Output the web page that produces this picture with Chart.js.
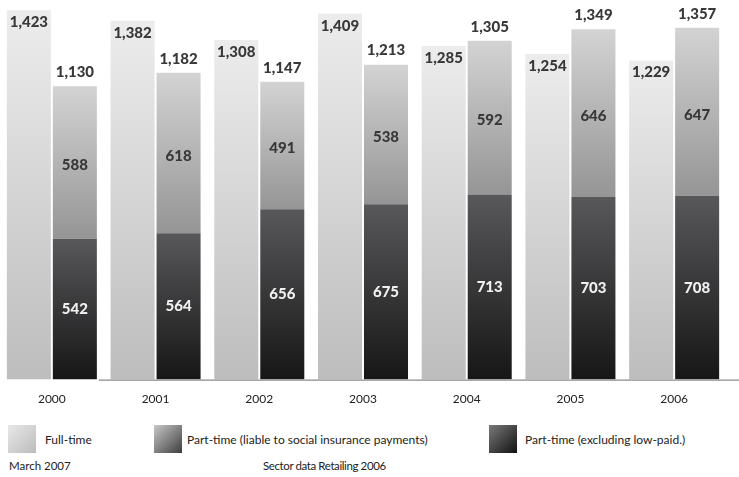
<!DOCTYPE html>
<html>
<head>
<meta charset="utf-8">
<script src="https://cdn.jsdelivr.net/npm/chart.js@4"></script>
<style>
  body { margin: 0; background: #fff; width: 739px; height: 477px; overflow: hidden; font-family: Lato, "Open Sans", sans-serif; color: #222; }
  #wrap { position: absolute; left: 0; top: 0; width: 739px; height: 410px; }
  .box { position: absolute; top: 425px; width: 28px; height: 28px; }
  .txt { position: absolute; top: 432px; font-size: 12px; white-space: nowrap; }
  .foot { position: absolute; top: 459px; font-size: 11.5px; white-space: nowrap; }
</style>
</head>
<body>
<div id="wrap"><canvas id="chart"></canvas></div>

<span class="box" style="left:8px;background:linear-gradient(135deg,#e8e8e8,#bcbcbc)"></span>
<span class="txt" style="left:45px">Full-time</span>
<span class="box" style="left:154px;background:linear-gradient(135deg,#c8c8c8,#3e3e3e)"></span>
<span class="txt" style="left:187px">Part-time (liable to social insurance payments)</span>
<span class="box" style="left:489px;background:linear-gradient(135deg,#7a7a7a,#111)"></span>
<span class="txt" style="left:525px">Part-time (excluding low-paid.)</span>
<div class="foot" style="left:9px">March 2007</div>
<div class="foot" style="left:263px;letter-spacing:-0.4px">Sector data Retailing 2006</div>

<script>
(() => {
    const years = ['2000', '2001', '2002', '2003', '2004', '2005', '2006'];
    const fullTime = [1423, 1382, 1308, 1409, 1285, 1254, 1229];
    const partLiable = [588, 618, 491, 538, 592, 646, 647];
    const partExcl = [542, 564, 656, 675, 713, 703, 708];
    const partTotal = [1130, 1182, 1147, 1213, 1305, 1349, 1357];

    const fmt = v => v.toLocaleString('en-US');

    // vertical gradient for one bar segment, from its own top to its own bottom
    function segGradient(ctx, base, top, c1, c2) {
        const chart = ctx.chart;
        const y = chart.scales.y;
        if (!chart.chartArea) return c2;
        const y0 = y.getPixelForValue(top);
        const y1 = y.getPixelForValue(base);
        const g = chart.ctx.createLinearGradient(0, y0, 0, y1);
        g.addColorStop(0, c1);
        g.addColorStop(1, c2);
        return g;
    }

    const valueLabels = {
        id: 'valueLabels',
        afterDatasetsDraw(chart) {
            const c = chart.ctx;
            c.save();
            c.textAlign = 'center';
            c.textBaseline = 'middle';
            c.font = '900 15px Lato, sans-serif';

            const ft = chart.getDatasetMeta(0).data;
            const ex = chart.getDatasetMeta(1).data;
            const li = chart.getDatasetMeta(2).data;

            ft.forEach((bar, i) => {
                c.fillStyle = '#383838';
                c.fillText(fmt(fullTime[i]), bar.x, bar.y + 12);
            });
            li.forEach((bar, i) => {
                c.fillStyle = '#383838';
                c.fillText(fmt(partTotal[i]), bar.x, bar.y - 14);
                c.fillText(fmt(partLiable[i]), bar.x, (bar.y + bar.base) / 2 + 3);
            });
            ex.forEach((bar, i) => {
                c.fillStyle = '#f0f0f0';
                c.fillText(fmt(partExcl[i]), bar.x, (bar.y + bar.base) / 2);
            });

            // baseline, starting after the first group like the original
            const first = ex[0];
            const yb = chart.scales.y.getPixelForValue(0);
            c.strokeStyle = '#8a8a8a';
            c.lineWidth = 1.2;
            c.beginPath();
            c.moveTo(first.x + first.width / 2 + 2, yb + 0.5);
            c.lineTo(chart.width, yb + 0.5);
            c.stroke();
            c.restore();
        }
    };

    new Chart(document.getElementById('chart'), {
        type: 'bar',
        data: {
            labels: years,
            datasets: [
                {
                    label: 'Full-time',
                    data: fullTime,
                    stack: 'ft',
                    backgroundColor: ctx => segGradient(ctx, 0, fullTime[ctx.dataIndex] || 0, '#ececec', '#bdbdbd')
                },
                {
                    label: 'Part-time (excluding low-paid.)',
                    data: partExcl,
                    stack: 'pt',
                    backgroundColor: ctx => segGradient(ctx, 0, partExcl[ctx.dataIndex] || 0, '#58585b', '#161616')
                },
                {
                    label: 'Part-time (liable to social insurance payments)',
                    data: partLiable,
                    stack: 'pt',
                    backgroundColor: ctx => {
                        const b = partExcl[ctx.dataIndex] || 0;
                        return segGradient(ctx, b, b + (partLiable[ctx.dataIndex] || 0), '#d3d3d3', '#959595');
                    }
                }
            ]
        },
        options: {
            responsive: true,
            maintainAspectRatio: false,
            animation: false,
            layout: { padding: { left: 0, right: 13, top: 0, bottom: 0 } },
            categoryPercentage: 0.887,
            barPercentage: 0.957,
            plugins: {
                legend: { display: false },
                tooltip: { enabled: false }
            },
            scales: {
                x: {
                    stacked: true,
                    grid: { display: false },
                    border: { display: false },
                    ticks: { color: '#222', font: { family: 'Lato', size: 12 }, padding: 4 }
                },
                y: {
                    stacked: true,
                    display: false,
                    min: 0,
                    max: 1462
                }
            }
        },
        plugins: [valueLabels]
    });
})();
</script>
</body>
</html>
